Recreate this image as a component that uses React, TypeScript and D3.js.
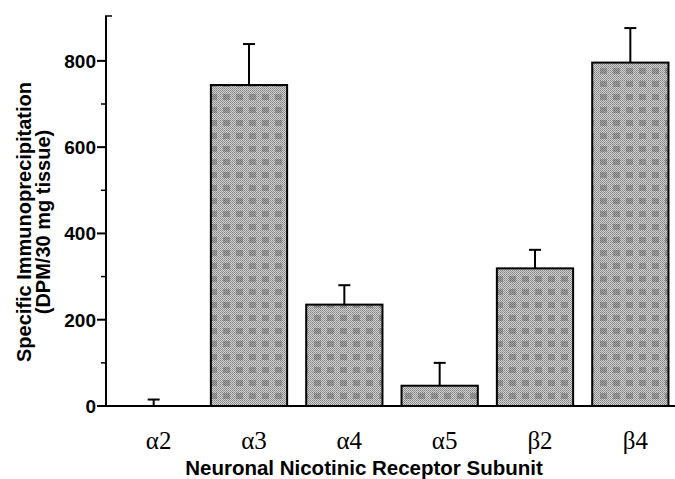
import React from 'react'
import * as d3 from 'd3'

const W = 675
const H = 479

// data
const subunits = ['α2', 'α3', 'α4', 'α5', 'β2', 'β4']
const dpm = [0, 744, 235, 47, 319, 796]
const errUp = [15, 95, 45, 53, 43, 80]
const majorTicks = [0, 200, 400, 600, 800]
const minorTicks = [100, 300, 500, 700]

const M = { left: 106, top: 16, bottom: 406, right: 678 }

const App = () => {
  const x = d3
    .scaleBand<string>()
    .domain(subunits)
    .range([M.left, M.right])
    .paddingInner(0.2)
    .paddingOuter(0.1)

  const y = d3.scaleLinear().domain([0, 904]).range([M.bottom, M.top])

  const font = 'Arial, "Liberation Sans", Helvetica, sans-serif'

  return (
    <svg
      width={W}
      height={H}
      style={{ position: 'absolute', left: 0, top: 0, background: '#fff' }}
    >
      <defs>
        <pattern id="fine" width="2" height="2" patternUnits="userSpaceOnUse">
          <rect width="2" height="2" fill="#d2d2d2" />
          <rect width="1" height="1" fill="#808080" />
          <rect x="1" y="1" width="1" height="1" fill="#959595" />
        </pattern>
        <pattern id="blob" width="13" height="13" patternUnits="userSpaceOnUse">
          <rect x="2" y="3" width="7" height="6" fill="#5a5a5a" opacity="0.4" />
        </pattern>
      </defs>

      {/* bars */}
      {dpm.map((v, i) => {
        const x0 = x(subunits[i])!
        const bw = x.bandwidth()
        const cx = x0 + bw / 2
        const top = y(v)
        const errTop = y(v + errUp[i])
        return (
          <g key={subunits[i]}>
            <line x1={cx} x2={cx} y1={top} y2={errTop} stroke="#000" strokeWidth={2} />
            <line x1={cx - 6} x2={cx + 6} y1={errTop} y2={errTop} stroke="#000" strokeWidth={2} />
            {v > 0 && (
              <>
                <rect x={x0} y={top} width={bw} height={M.bottom - top} fill="url(#fine)" />
                <rect x={x0} y={top} width={bw} height={M.bottom - top} fill="url(#blob)" />
                <rect
                  x={x0}
                  y={top}
                  width={bw}
                  height={M.bottom - top}
                  fill="none"
                  stroke="#000"
                  strokeWidth={2}
                />
              </>
            )}
          </g>
        )
      })}

      {/* y axis */}
      <line x1={M.left} x2={M.left} y1={M.top} y2={M.bottom} stroke="#000" strokeWidth={2} />
      <line x1={M.left - 1} x2={M.left + 6} y1={M.top} y2={M.top} stroke="#000" strokeWidth={1.5} />
      {majorTicks.map(t => (
        <g key={t}>
          <line x1={M.left - 9} x2={M.left} y1={y(t)} y2={y(t)} stroke="#000" strokeWidth={2} />
          <text
            x={M.left - 10}
            y={y(t) + 7}
            textAnchor="end"
            fontFamily={font}
            fontWeight="bold"
            fontSize={19}
          >
            {t}
          </text>
        </g>
      ))}
      {minorTicks.map(t => (
        <line key={t} x1={M.left - 5} x2={M.left} y1={y(t)} y2={y(t)} stroke="#000" strokeWidth={1.5} />
      ))}

      {/* x axis */}
      <line x1={M.left - 9} x2={W} y1={M.bottom} y2={M.bottom} stroke="#000" strokeWidth={2} />
      {subunits.map(s => (
        <text
          key={s}
          x={x(s)! + x.bandwidth() / 2 + 5}
          y={449}
          textAnchor="middle"
          fontFamily='"Times New Roman", "Liberation Serif", serif'
          fontSize={25}
        >
          {s}
        </text>
      ))}
      <text
        x={364}
        y={475}
        textAnchor="middle"
        fontFamily={font}
        fontWeight="bold"
        fontSize={20.5}
      >
        Neuronal Nicotinic Receptor Subunit
      </text>

      {/* y title */}
      <text
        transform="translate(31,222) rotate(-90)"
        textAnchor="middle"
        fontFamily={font}
        fontWeight="bold"
        fontSize={20}
      >
        Specific Immunoprecipitation
      </text>
      <text
        transform="translate(50,222) rotate(-90)"
        textAnchor="middle"
        fontFamily={font}
        fontWeight="bold"
        fontSize={20}
      >
        (DPM/30 mg tissue)
      </text>
    </svg>
  )
}

export default App
